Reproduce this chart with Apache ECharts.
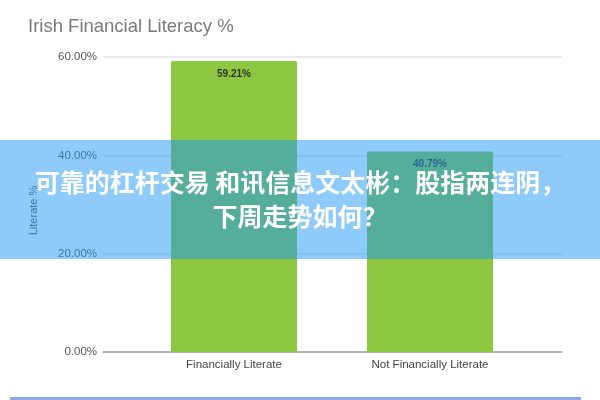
<!DOCTYPE html>
<html>
<head>
<meta charset="utf-8">
<script src="https://cdn.jsdelivr.net/npm/echarts@6/dist/echarts.min.js"></script>
<style>
html,body{margin:0;padding:0;background:#fff;}
#c{width:600px;height:400px;}
</style>
</head>
<body>
<div id="c"></div>
<script>
const titleText = 'Irish Financial Literacy %';
const categories = ['Financially Literate', 'Not Financially Literate'];
const values = [59.21, 40.79];
const yMin = 0, yMax = 60, yStep = 20;
const yAxisName = 'Literate %';
const bannerLines = ['可靠的杠杆交易 和讯信息文太彬：股指两连阴，', '下周走势如何？'];

const chart = echarts.init(document.getElementById('c'));
const pctFmt = v => v.toFixed(2) + '%';
const ff = 'Liberation Sans, Arial, sans-serif';
chart.setOption({
  animation: false,
  backgroundColor: '#ffffff',
  title: {
    text: titleText, left: 23, top: 12,
    textStyle: {color: '#7a7a7a', fontSize: 18.5, fontWeight: 'normal', fontFamily: ff}
  },
  grid: [
    {left: 136, right: 72, top: 57, bottom: 48},
    {left: 103, right: 38, top: 57, bottom: 48}
  ],
  xAxis: [
    {
      gridIndex: 0, type: 'category', data: categories,
      axisLine: {show: false}, axisTick: {show: false},
      axisLabel: {color: '#444', fontSize: 11.5, margin: 7, fontFamily: ff}
    },
    {
      gridIndex: 1, type: 'category', data: categories,
      axisLine: {show: true, lineStyle: {color: '#a6a6a6', width: 1.5}},
      axisTick: {show: false}, axisLabel: {show: false}
    }
  ],
  yAxis: [
    {
      gridIndex: 0, type: 'value', min: yMin, max: yMax, interval: yStep,
      show: false, splitLine: {show: false}
    },
    {
      gridIndex: 1, type: 'value', min: yMin, max: yMax, interval: yStep,
      name: yAxisName, nameLocation: 'middle', nameGap: 64, nameRotate: 90,
      nameTextStyle: {color: '#555', fontSize: 11, fontFamily: ff, padding: [0, 12, 0, 0]},
      axisLine: {show: false}, axisTick: {show: false},
      axisLabel: {formatter: pctFmt, color: '#555', fontSize: 11.5, margin: 6, fontFamily: ff},
      splitLine: {lineStyle: {color: '#e3e3e3', width: 1.5}}
    }
  ],
  series: [{
    type: 'bar', xAxisIndex: 0, yAxisIndex: 0,
    data: values, barWidth: 126,
    itemStyle: {color: '#8dc63f', borderRadius: [2, 2, 0, 0]},
    label: {
      show: true, position: 'insideTop', distance: 8,
      formatter: p => pctFmt(p.value),
      color: '#333', fontSize: 10, fontWeight: 'bold', fontFamily: ff
    }
  }],
  graphic: [
    {
      type: 'rect', z: 100, left: 0, top: 140,
      shape: {width: 600, height: 119},
      style: {fill: 'rgba(30,150,245,0.5)'}
    },
    {
      type: 'text', z: 101, left: 'center', top: 170,
      style: {text: bannerLines[0], fill: '#fff', font: 'bold 25px "Noto Sans CJK SC", sans-serif'}
    },
    {
      type: 'text', z: 101, left: 'center', top: 204,
      style: {text: bannerLines[1], fill: '#fff', font: 'bold 25px "Noto Sans CJK SC", sans-serif'}
    },
    {
      type: 'rect', z: 100, left: 10, top: 397,
      shape: {width: 571, height: 3},
      style: {fill: '#8fa8e6'}
    }
  ]
});
</script>
</body>
</html>
